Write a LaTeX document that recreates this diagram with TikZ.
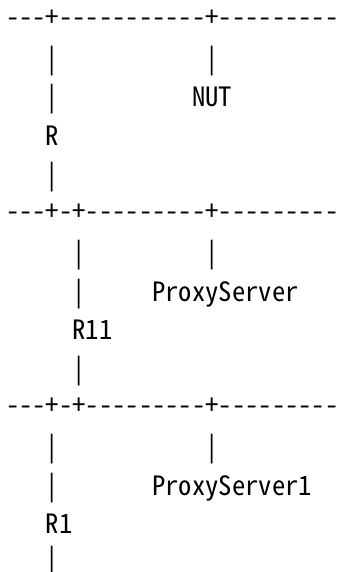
\documentclass[tikz,border=0pt]{standalone}
\usepackage{fontspec}
\newfontfamily\asciifont[RawFeature=+hwid]{Noto Sans CJK JP}
\begin{document}
\begin{tikzpicture}[x=1pt,y=-1pt,
  txt/.style={inner sep=0pt, anchor=base west, font=\asciifont\fontsize{26.6pt}{30pt}\selectfont}]
\useasboundingbox (0,0) rectangle (339,572);
% column c left edge: 5.85+13.3*c ; row r baseline: 29.4+38.8*r ; rule rows raised 3
% block 1
\node[txt] (rule1) at (5.85, 26.4) {---+-----------+---------};
\node[txt] (b1a) at (45.75, 68.2) {|};
\node[txt] (b1b) at (205.35, 68.2) {|};
\node[txt] (b1c) at (45.75, 107.0) {|};
\node[txt] (nut) at (192.05, 107.0) {NUT};
\node[txt] (r) at (45.75, 145.8) {R};
\node[txt] (b1d) at (45.75, 184.6) {|};
% block 2
\node[txt] (rule2) at (5.85, 220.4) {---+-+---------+---------};
\node[txt] (b2a) at (72.35, 262.2) {|};
\node[txt] (b2b) at (205.35, 262.2) {|};
\node[txt] (b2c) at (72.35, 301.0) {|};
\node[txt] (ps) at (152.15, 301.0) {ProxyServer};
\node[txt] (r11) at (72.35, 339.8) {R11};
\node[txt] (b2d) at (72.35, 378.6) {|};
% block 3
\node[txt] (rule3) at (5.85, 414.4) {---+-+---------+---------};
\node[txt] (b3a) at (45.75, 456.2) {|};
\node[txt] (b3b) at (205.35, 456.2) {|};
\node[txt] (b3c) at (45.75, 495.0) {|};
\node[txt] (ps1) at (152.15, 495.0) {ProxyServer1};
\node[txt] (r1) at (45.75, 533.8) {R1};
\node[txt] (b3d) at (45.75, 568.0) {|};
\end{tikzpicture}
\end{document}
